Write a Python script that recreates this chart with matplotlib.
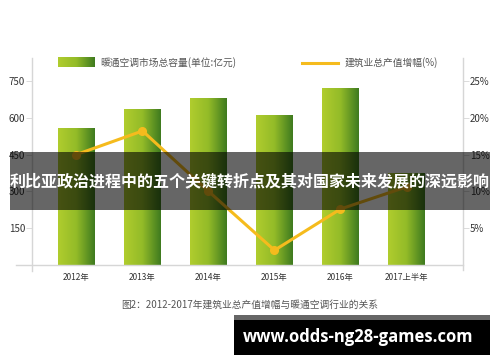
import matplotlib
matplotlib.use("Agg")
import matplotlib.pyplot as plt
import numpy as np
from matplotlib.colors import LinearSegmentedColormap
from matplotlib.patches import Rectangle
from matplotlib.lines import Line2D

plt.rcParams["font.family"] = ["Noto Sans CJK SC", "DejaVu Sans"]

# data
years = ["2012年", "2013年", "2014年", "2015年", "2016年", "2017上半年"]
market_size = [558, 636, 681, 611, 721, 375]          # 亿元
growth_pct = [15.0, 18.2, 10.0, 2.0, 7.6, 10.6]      # %
left_ticks = [150, 300, 450, 600, 750]
right_ticks = [5, 10, 15, 20, 25]

bar_name = "暖通空调市场总容量(单位:亿元)"
line_name = "建筑业总产值增幅(%)"
caption = "图2：2012-2017年建筑业总产值增幅与暖通空调行业的关系"
banner = "利比亚政治进程中的五个关键转折点及其对国家未来发展的深远影响"
site = "www.odds-ng28-games.com"

green = LinearSegmentedColormap.from_list("g", ["#b0cd2e", "#93bb28", "#3f7b1f"])
yellow = "#f5bb1d"
spine = "#d6d6d6"

W, H = 500, 362
fig = plt.figure(figsize=(W / 100, H / 100), dpi=100)
ax = fig.add_axes([32 / W, 1 - 265 / H, (463 - 32) / W, (265 - 58) / H])
ax2 = ax.twinx()

x = np.arange(len(years))
bars = ax.bar(x, market_size, width=0.56, color="none", zorder=2)
grad = np.linspace(0, 1, 64).reshape(1, -1)
for b in bars:
    x0, w, h = b.get_x(), b.get_width(), b.get_height()
    im = ax.imshow(grad, cmap=green, extent=[x0, x0 + w, 0, h],
                   aspect="auto", zorder=2)
    im.set_clip_path(b)

ax.set_xlim(-0.674, 5.856)
ax.set_ylim(0, 844)
ax2.set_ylim(0, 28.1)

ax2.plot(x, growth_pct, color=yellow, lw=2.2, marker="o", ms=5.5,
         solid_capstyle="round", zorder=3)

for a in (ax, ax2):
    for s in a.spines.values():
        s.set_visible(False)
ax.set_yticks(left_ticks)
ax.set_yticklabels([str(t) for t in left_ticks])
ax2.set_yticks(right_ticks)
ax2.set_yticklabels([f"{t}%" for t in right_ticks])
ax.tick_params(axis="y", length=4, width=0.6, color=spine, labelsize=7,
               labelcolor="#333333", pad=1)
ax2.tick_params(axis="y", length=4, width=0.6, color=spine, labelsize=7,
                labelcolor="#333333", pad=1)
ax.set_xticks(x)
ax.set_xticklabels(years)
ax.tick_params(axis="x", length=0, labelsize=6, labelcolor="#333333", pad=6)

# axis lines
fig.add_artist(Line2D([32 / W, 32 / W], [1 - 58 / H, 1 - 271 / H], color=spine, lw=1))
fig.add_artist(Line2D([463 / W, 463 / W], [1 - 58 / H, 1 - 270 / H], color=spine, lw=1))
fig.add_artist(Line2D([16 / W, 463 / W], [1 - 265 / H, 1 - 265 / H], color=spine, lw=1))

# legend
lax = fig.add_axes([58 / W, 1 - 67 / H, 37 / W, 10 / H])
lax.imshow(grad, cmap=green, aspect="auto")
lax.axis("off")
fig.text(100 / W, 1 - 63 / H, bar_name, fontsize=7, color="#555555", va="center")
fig.add_artist(Line2D([302 / W, 338 / W], [1 - 63 / H, 1 - 63 / H], color=yellow, lw=2.2))
fig.text(345 / W, 1 - 63 / H, line_name, fontsize=7, color="#555555", va="center")

fig.text(0.5, 1 - 305 / H, caption, fontsize=7, color="#555555", ha="center", va="center")

# overlay banner
fig.add_artist(Rectangle((10 / W, 1 - 210 / H), 480 / W, 58 / H, transform=fig.transFigure,
                         facecolor="black", alpha=0.6, edgecolor="none", zorder=10))
fig.text(250 / W, 1 - 181 / H, banner, fontsize=11.5, fontweight="bold", color="white",
         ha="center", va="center", zorder=11)

# site box
fig.add_artist(Rectangle((234 / W, 1 - 320 / H), 256 / W, 5 / H, transform=fig.transFigure,
                         facecolor="#666666", edgecolor="none", zorder=10))
fig.add_artist(Rectangle((234 / W, 1 - 355 / H), 256 / W, 35 / H, transform=fig.transFigure,
                         facecolor="black", edgecolor="none", zorder=10))
fig.text(358 / W, 1 - 337 / H, site, fontsize=12, fontweight="bold", color="white",
         family=["Open Sans", "DejaVu Sans"], ha="center", va="center", zorder=11)

fig.savefig("out.png", dpi=100)
